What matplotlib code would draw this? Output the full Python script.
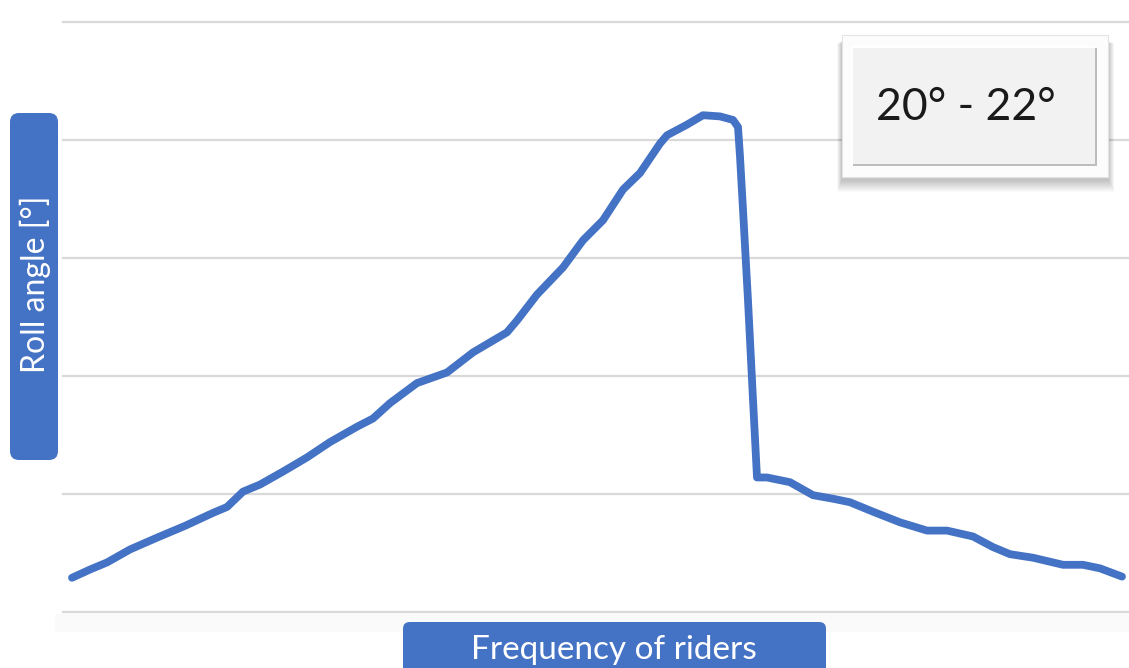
import matplotlib
matplotlib.use("Agg")
import matplotlib.pyplot as plt
from matplotlib.patches import FancyBboxPatch, Rectangle

# Roll-angle distribution curve (frequency of riders on x, roll angle on y)
freq = [0.9, 2.7, 4.4, 6.7, 9.4, 12.2, 15.0, 16.4, 18.0, 19.7, 22.0, 24.4, 26.7,
        29.4, 31.0, 32.7, 35.4, 38.4, 41.0, 44.4, 45.4, 47.4, 50.0, 52.0, 54.0,
        56.0, 57.7, 59.7, 60.4, 62.4, 64.0, 65.7, 67.0, 67.5, 67.7, 68.0, 68.5,
        69.0, 69.4, 70.4, 72.7, 75.0, 77.0, 78.7, 81.0, 83.7, 86.4, 88.4, 91.0,
        93.0, 94.7, 97.0, 100.0, 102.0, 103.7, 105.9]
roll = [0.29, 0.36, 0.42, 0.53, 0.63, 0.73, 0.84, 0.89, 1.02, 1.08, 1.19, 1.31,
        1.44, 1.57, 1.64, 1.77, 1.94, 2.03, 2.20, 2.37, 2.47, 2.69, 2.92, 3.15,
        3.32, 3.58, 3.72, 3.97, 4.04, 4.13, 4.21, 4.20, 4.17, 4.11, 3.86, 3.41,
        2.64, 1.80, 1.14, 1.14, 1.10, 0.99, 0.96, 0.93, 0.85, 0.76, 0.69, 0.69,
        0.64, 0.55, 0.49, 0.46, 0.40, 0.40, 0.37, 0.30]
grid_levels = [0, 1, 2, 3, 4, 5]

y_label = "Roll angle [°]"
x_label = "Frequency of riders"
range_label = "20° - 22°"

BLUE = "#4472C4"
GRID = "#d9d9d9"
FONT = ["Lato", "DejaVu Sans"]

W, H = 1129, 668
fig = plt.figure(figsize=(W / 100, H / 100), dpi=100)
fig.patch.set_facecolor("white")


def fx(x):
    return x / W


def fy(y):
    return 1 - y / H


def fig_rect(x0, y0, x1, y1, **kw):
    """Rectangle given by pixel corners (top-left, bottom-right)."""
    r = Rectangle((fx(x0), fy(y1)), fx(x1 - x0), (y1 - y0) / H,
                  transform=fig.transFigure, **kw)
    fig.patches.append(r)
    return r


# faint band under the plotting area
fig_rect(55, 614, 1129, 632, facecolor="#fafafa", edgecolor="none", zorder=0)

ax = fig.add_axes([fx(63), fy(612), fx(1129 - 63), (612 - 22) / H])
ax.set_xlim(0, 106.6)
ax.set_ylim(0, 5)
ax.set_facecolor("none")
for s in ax.spines.values():
    s.set_visible(False)
ax.set_xticks([])
ax.set_yticks([])
for g in grid_levels:
    ax.axhline(g, color=GRID, lw=1.6, zorder=1, clip_on=False)

ax.plot(freq, roll, color=BLUE, lw=5.6, solid_joinstyle="round",
        solid_capstyle="round", zorder=3, clip_on=False)

# y-axis label box
fig.patches.append(FancyBboxPatch((fx(10), fy(460)), fx(48), (460 - 113) / H,
                                  boxstyle="round,pad=0,rounding_size=0.008",
                                  transform=fig.transFigure, facecolor=BLUE,
                                  edgecolor="none", zorder=5,
                                  mutation_aspect=W / H))
fig.text(fx(35), fy(284), y_label, rotation=90, color="white", fontsize=23,
         family=FONT, ha="center", va="center", zorder=6)

# x-axis label box
fig.patches.append(FancyBboxPatch((fx(403), fy(680)), fx(423), 58 / H,
                                  boxstyle="round,pad=0,rounding_size=0.006",
                                  transform=fig.transFigure, facecolor=BLUE,
                                  edgecolor="none", zorder=5,
                                  mutation_aspect=W / H))
fig.text(fx(614), fy(650), x_label, color="white", fontsize=24,
         family=FONT, ha="center", va="center", zorder=6)

# range callout: soft drop shadow, light frame and bevelled inner panel
for d in range(12, 0, -1):
    fig_rect(842 - d * 0.4, 40 + d * 0.3, 1108 + d * 0.5, 180 + d,
             facecolor="black", alpha=0.018, edgecolor="none", zorder=6)
fig_rect(842, 35, 1108, 177, facecolor="#fcfcfc", edgecolor="#e4e4e4",
         lw=0.8, zorder=7)
fig_rect(853, 48, 1097, 166, facecolor="#bdbdbd", edgecolor="none", zorder=8)
fig_rect(851, 46, 1095, 164, facecolor="#ffffff", edgecolor="none", zorder=8)
fig_rect(853, 48, 1095, 164, facecolor="#f2f2f2", edgecolor="none", zorder=9)
fig.text(fx(966), fy(107), range_label, color="#1a1a1a", fontsize=32,
         family=FONT, ha="center", va="center", zorder=10)

fig.savefig("out.png", dpi=100, facecolor="white")
